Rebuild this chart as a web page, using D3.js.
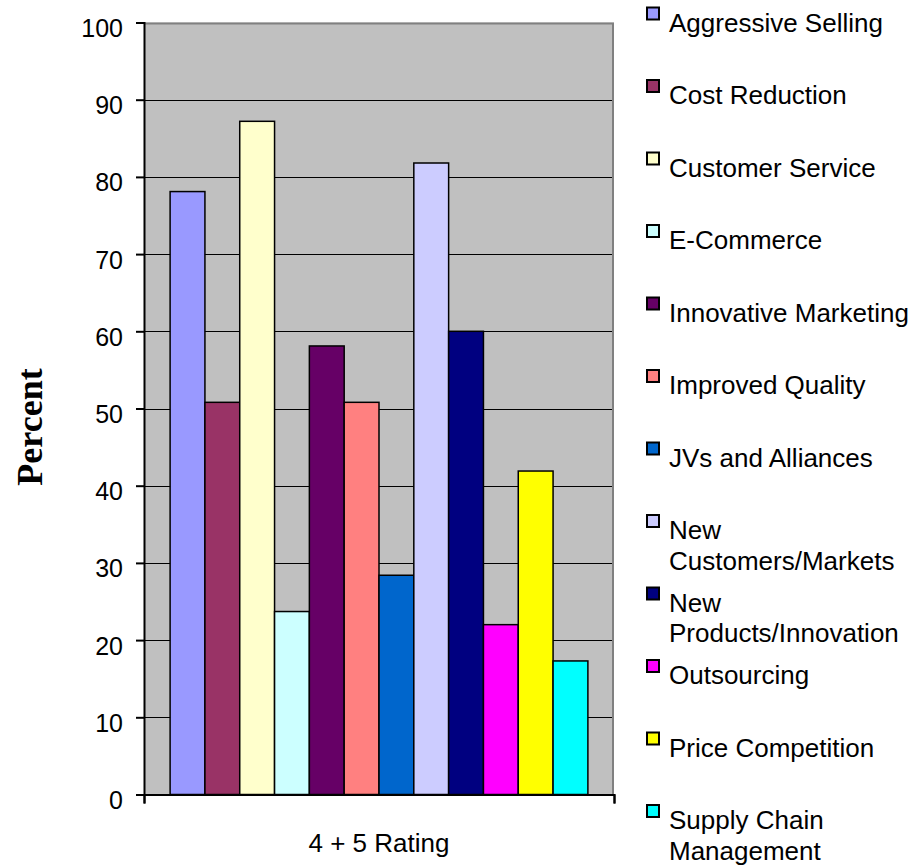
<!DOCTYPE html>
<html>
<head>
<meta charset="utf-8">
<script src="https://cdn.jsdelivr.net/npm/d3@7/dist/d3.min.js"></script>
<style>
  html, body { margin: 0; padding: 0; background: #ffffff; }
  svg { display: block; }
  text { fill: #000; }
</style>
</head>
<body>
<svg id="chart" width="913" height="865"></svg>
<script>
// Survey categories (one group) and the strategies rated in it
const categories = ["4 + 5 Rating"];
const series = [
  "Aggressive Selling",
  "Cost Reduction",
  "Customer Service",
  "E-Commerce",
  "Innovative Marketing",
  "Improved Quality",
  "JVs and Alliances",
  "New Customers/Markets",
  "New Products/Innovation",
  "Outsourcing",
  "Price Competition",
  "Supply Chain Management"
];
// Percent of respondents giving a 4 or 5 rating
const values = [78.1, 50.8, 87.2, 23.7, 58.1, 50.8, 28.4, 81.8, 60.0, 22.0, 41.9, 17.3];
const colors = ["#9999FF", "#993366", "#FFFFCC", "#CCFFFF", "#660066", "#FF8080",
                "#0066CC", "#CCCCFF", "#000080", "#FF00FF", "#FFFF00", "#00FFFF"];
// Legend text split into lines
const legendLines = [
  ["Aggressive Selling"], ["Cost Reduction"], ["Customer Service"], ["E-Commerce"],
  ["Innovative Marketing"], ["Improved Quality"], ["JVs and Alliances"],
  ["New", "Customers/Markets"], ["New", "Products/Innovation"], ["Outsourcing"],
  ["Price Competition"], ["Supply Chain", "Management"]
];
const yTicks = [0, 10, 20, 30, 40, 50, 60, 70, 80, 90, 100];

const SANS = "'Liberation Sans', Arial, Helvetica, sans-serif";
const SERIF = "'Liberation Serif', 'Times New Roman', Times, serif";

const svg = d3.select("#chart");
const plot = { left: 144, right: 614, top: 22.5, bottom: 794.5 };

const y = d3.scaleLinear().domain([0, 100]).range([plot.bottom, plot.top]);
// Gap of 1.5 bar widths around the group of 12 bars
const x0 = d3.scaleBand().domain(categories).range([plot.left, plot.right])
  .paddingInner(0).paddingOuter(0.0625);
const x1 = d3.scaleBand().domain(series).range([0, x0.bandwidth()]).padding(0);

// Plot background
svg.append("rect")
  .attr("x", plot.left).attr("y", plot.top)
  .attr("width", plot.right - plot.left).attr("height", plot.bottom - plot.top)
  .attr("fill", "#C0C0C0");

// Horizontal gridlines
const grid = svg.append("g")
  .attr("transform", `translate(${plot.left},0)`)
  .call(d3.axisLeft(y).tickValues(yTicks.filter(t => t > 0 && t < 100))
    .tickSize(-(plot.right - plot.left)).tickFormat(""));
grid.select(".domain").remove();
grid.selectAll(".tick line").attr("stroke", "#000").attr("stroke-width", 1)
  .attr("shape-rendering", "crispEdges");

// Gray frame on top and right
svg.append("path")
  .attr("d", `M${plot.left},${plot.top + 1}H${plot.right - 1}V${plot.bottom}`)
  .attr("fill", "none").attr("stroke", "#808080").attr("stroke-width", 2);

// Bars
const group = svg.append("g").selectAll("g").data(categories).join("g")
  .attr("transform", d => `translate(${x0(d)},0)`);
group.selectAll("rect")
  .data(series.map((s, i) => ({ s, v: values[i], c: colors[i] })))
  .join("rect")
  .attr("x", d => x1(d.s))
  .attr("y", d => y(d.v))
  .attr("width", x1.bandwidth())
  .attr("height", d => y(0) - y(d.v))
  .attr("fill", d => d.c)
  .attr("stroke", "#000")
  .attr("stroke-width", 1.5);

// Y axis
const yAxis = svg.append("g")
  .attr("transform", `translate(${plot.left},0)`)
  .call(d3.axisLeft(y).tickValues(yTicks).tickSize(8).tickPadding(13));
yAxis.select(".domain").attr("stroke", "#000").attr("stroke-width", 2);
yAxis.selectAll(".tick line").attr("stroke", "#000").attr("stroke-width", 2);
yAxis.selectAll(".tick text")
  .style("font-family", SANS)
  .style("font-size", "25px")
  .attr("dy", "0.88em").attr("y", -8)
  .attr("fill", "#000");

// X axis (category boundaries only)
const xAxis = svg.append("g")
  .attr("transform", `translate(0,${plot.bottom})`)
  .call(d3.axisBottom(d3.scaleLinear().domain([0, 1]).range([plot.left, plot.right]))
    .tickValues([0, 1]).tickSize(9).tickFormat(""));
xAxis.select(".domain").attr("stroke", "#000").attr("stroke-width", 2);
xAxis.selectAll(".tick line").attr("stroke", "#000").attr("stroke-width", 2);

// Category label
svg.append("text")
  .attr("x", x0(categories[0]) + x0.bandwidth() / 2)
  .attr("y", 851.5)
  .attr("text-anchor", "middle")
  .style("font-family", SANS)
  .style("font-size", "26px")
  .text(categories[0]);

// Y axis title
svg.append("text")
  .attr("transform", "translate(42,427) rotate(-90)")
  .attr("text-anchor", "middle")
  .style("font-family", SERIF)
  .style("font-weight", "bold")
  .style("font-size", "36px")
  .text("Percent");

// Legend
const legend = svg.append("g");
const item = legend.selectAll("g").data(series).join("g")
  .attr("transform", (d, i) => `translate(0,${31.5 + 72.5 * i})`);
item.append("rect")
  .attr("x", 647).attr("y", -24)
  .attr("width", 12).attr("height", 12)
  .attr("fill", (d, i) => colors[i])
  .attr("stroke", "#000").attr("stroke-width", 2);
item.append("text")
  .attr("x", 669).attr("y", 0)
  .style("font-family", SANS)
  .style("font-size", "26px")
  .selectAll("tspan").data((d, i) => legendLines[i]).join("tspan")
  .attr("x", 669).attr("dy", (d, j) => j === 0 ? 0 : 30.5)
  .text(d => d);
</script>
</body>
</html>
